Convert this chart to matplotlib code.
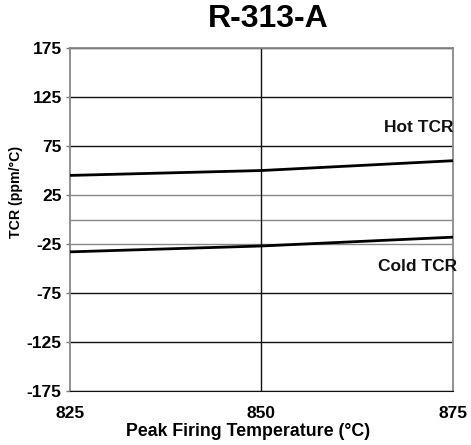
import matplotlib

matplotlib.use("Agg")
import matplotlib.pyplot as plt

plt.rcParams["font.family"] = ["Liberation Sans", "DejaVu Sans"]
plt.rcParams["font.weight"] = "bold"
plt.rcParams["axes.unicode_minus"] = False

# Peak firing temperature (°C) vs TCR (ppm/°C)
temps = [825, 850, 875]
hot_tcr = [45, 50, 60]
cold_tcr = [-33, -27, -18]
y_ticks = [-175, -125, -75, -25, 25, 75, 125, 175]
x_ticks = [825, 850, 875]

fig = plt.figure(figsize=(4.71, 4.45), dpi=100)
ax = fig.add_axes([0.1486, 0.1213, 0.8132, 0.7708])

# horizontal grid, plus an extra lighter line at zero
for y in y_ticks:
    c = "#888888" if y in (25, -25) else "#111111"
    ax.axhline(y, color=c, lw=1.0, zorder=1)
ax.axhline(0, color="#888888", lw=1.0, zorder=1)
ax.axvline(850, color="#111111", lw=1.0, zorder=1)

ax.plot(temps, hot_tcr, color="black", lw=2.0, zorder=3)
ax.plot(temps, cold_tcr, color="black", lw=2.0, zorder=3)

ax.text(875, 94, "Hot TCR", ha="right", va="center", fontsize=12.5,
        fontweight="bold", color="#111111")
ax.text(875.6, -48, "Cold TCR", ha="right", va="center", fontsize=12.5,
        fontweight="bold", color="#111111", clip_on=False)

ax.set_xlim(825, 875)
ax.set_ylim(-175, 175)
ax.set_xticks(x_ticks)
ax.set_yticks(y_ticks)
ax.tick_params(axis="x", length=0, pad=11, labelsize=12.5)
ax.tick_params(axis="y", length=3, width=1, color="#777777", pad=3,
               labelsize=12.5)

for side in ("left", "top", "right"):
    ax.spines[side].set_color("#888888")
    ax.spines[side].set_linewidth(1.3)
ax.spines["bottom"].set_color("#111111")

ax.set_xlabel("Peak Firing Temperature (°C)", fontsize=12.8,
              fontweight="bold")
ax.xaxis.set_label_coords(0.465, -0.092)
ax.set_ylabel("TCR (ppm/°C)", fontsize=10.2, fontweight="bold")
ax.yaxis.set_label_coords(-0.123, 0.58)

fig.text(0.569, 0.957, "R-313-A", ha="center", va="center", fontsize=23,
         fontweight="bold")

fig.savefig("out.png", dpi=100)
